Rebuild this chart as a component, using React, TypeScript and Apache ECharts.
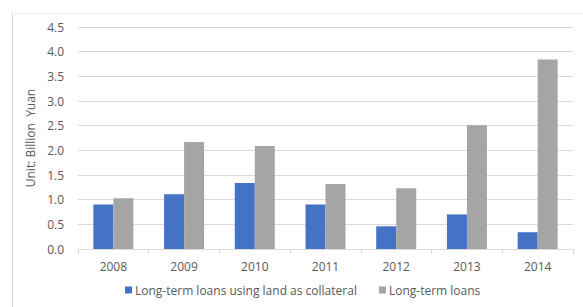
import React, { useEffect, useRef } from "react";
import * as echarts from "echarts";

const categories = ["2008", "2009", "2010", "2011", "2012", "2013", "2014"];
const landCollateral = [0.9, 1.11, 1.34, 0.9, 0.46, 0.7, 0.34];
const longTermLoans = [1.03, 2.17, 2.09, 1.32, 1.23, 2.51, 3.84];
const seriesNames = ["Long-term loans using land as collateral", "Long-term loans"];
const yAxisName = "Unit: Billion  Yuan";

export default function App() {
  const ref = useRef<HTMLDivElement>(null);
  useEffect(() => {
    const chart = echarts.init(ref.current!, null, { renderer: "svg" });
    const font = "'Open Sans', 'Noto Sans', sans-serif";
    chart.setOption({
      animation: false,
      textStyle: { fontFamily: font },
      graphic: [
        { type: "line", shape: { x1: 12.5, y1: 13, x2: 12.5, y2: 307 }, style: { stroke: "#d9d9d9", lineWidth: 1 } },
        { type: "line", shape: { x1: 12, y1: 13.5, x2: 583, y2: 13.5 }, style: { stroke: "#eeeeee", lineWidth: 1 } },
      ],
      grid: { left: 78, right: 10, top: 27, bottom: 58, containLabel: false },
      legend: {
        data: seriesNames,
        bottom: 6,
        left: 120,
        itemWidth: 7,
        itemHeight: 7,
        itemGap: 22,
        icon: "rect",
        textStyle: { color: "#595959", fontSize: 12, fontFamily: font, padding: [0, 0, 0, -2] },
      },
      xAxis: {
        type: "category",
        data: categories,
        axisLine: { lineStyle: { color: "#d9d9d9" } },
        axisTick: { show: true, length: 5, lineStyle: { color: "#d9d9d9" } },
        axisLabel: { color: "#595959", fontSize: 12, margin: 11 },
      },
      yAxis: {
        type: "value",
        min: 0,
        max: 4.5,
        interval: 0.5,
        name: yAxisName,
        nameLocation: "middle",
        nameGap: 42,
        nameTextStyle: { color: "#595959", fontSize: 12 },
        axisLine: { show: false },
        axisTick: { show: false },
        axisLabel: { color: "#595959", fontSize: 12, formatter: (v: number) => v.toFixed(1), margin: 14 },
        splitLine: { lineStyle: { color: "#d9d9d9" } },
      },
      series: [
        { name: seriesNames[0], type: "bar", data: landCollateral, barWidth: 20, barGap: "0%", itemStyle: { color: "#4472c4" } },
        { name: seriesNames[1], type: "bar", data: longTermLoans, barWidth: 20, barGap: "0%", itemStyle: { color: "#a5a5a5" } },
      ],
    });
    return () => chart.dispose();
  }, []);
  return <div ref={ref} style={{ position: "fixed", left: 0, top: 0, width: 583, height: 307, background: "#fff" }} />;
}
